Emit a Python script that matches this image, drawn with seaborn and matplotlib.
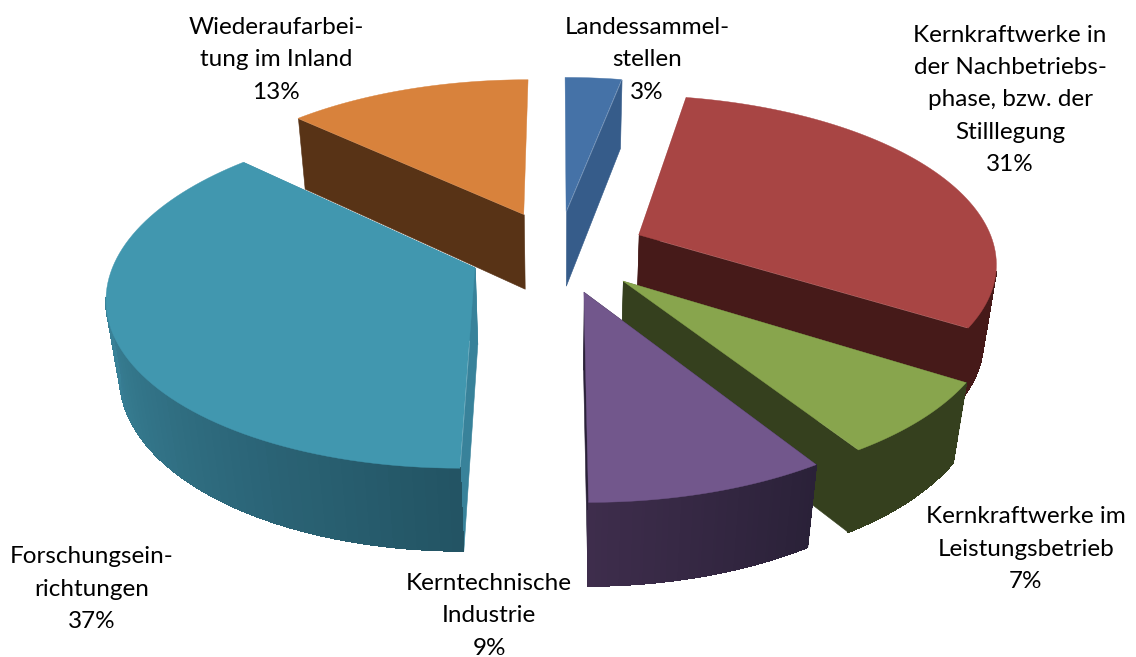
import numpy as np
import matplotlib.pyplot as plt
from matplotlib.collections import PolyCollection
from matplotlib.colors import to_rgb
import seaborn as sns

# shares in percent, clockwise from 12 o'clock
names = ['Landessammel-\nstellen',
         'Kernkraftwerke in\nder Nachbetriebs-\nphase, bzw. der\nStilllegung',
         'Kernkraftwerke im\nLeistungsbetrieb',
         'Kerntechnische\nIndustrie',
         'Forschungsein-\nrichtungen',
         'Wiederaufarbei-\ntung im Inland']
shares = [3, 31, 7, 9, 37, 13]

top_colors = ['#4572A7', '#A84544', '#88A54D', '#72578C', '#4197AF', '#D8823C']
rim_from = ['#365C8A', '#461A19', '#35401E', '#2A2138', '#235464', '#583316']
rim_to = ['#365C8A', '#461A19', '#35401E', '#3E2D4C', '#48A0BA', '#583316']
face_colors = ['#365C8A', '#461A19', '#35401E', '#2A2138', '#38829A', '#583316']

label_x = [647, 1010, 1026, 489, 92, 276]
label_y = [60, 100, 549, 616, 589, 60]

# camera settings, fitted by eye
CX, CY = 558, 251
SX, SY, SZ = 357, 165, 78
TILT, SINK = 0.15, 0.03
EXPLODE = 0.25


def project(x, y, z=0.0):
    w = 1 - TILT * y + SINK * z
    return np.column_stack([CX + SX * x / w, CY + (SY * y + SZ * z) / w])


def quad_strip(x, y):
    top = project(x, y, 0)
    bot = project(x, y, 1)
    return [np.array([top[i], top[i + 1], bot[i + 1], bot[i]]) for i in range(len(x) - 1)]


sns.set_theme(style='white')
plt.rcParams['font.family'] = ['Lato', 'DejaVu Sans']

fig, ax = plt.subplots(figsize=(11.36, 6.57), dpi=100)
fig.subplots_adjust(0, 0, 1, 1)
ax.set_xlim(0, 1136)
ax.set_ylim(657, 0)
ax.axis('off')

edges = np.radians(np.concatenate([[0], np.cumsum(shares)]) * 3.6)
# painter's order, back to front
for i in [5, 0, 1, 4, 2, 3]:
    a0, a1 = edges[i], edges[i + 1]
    mid = (a0 + a1) / 2
    ox, oy = EXPLODE * np.sin(mid), -EXPLODE * np.cos(mid)
    t = np.linspace(a0, a1, 81)
    rx, ry = ox + np.sin(t), oy - np.cos(t)

    # the two cut faces, the one pointing straight back stays hidden
    for a in (a0, a1):
        if np.cos(a) > 0.99:
            continue
        fx = np.array([ox, ox + np.sin(a)])
        fy = np.array([oy, oy - np.cos(a)])
        ax.add_collection(PolyCollection(quad_strip(fx, fy), facecolors=face_colors[i],
                                         edgecolors=face_colors[i], linewidths=0.4))

    # outer wall, shaded along the arc; no antialiasing or the quads show seams
    c0, c1 = np.array(to_rgb(rim_from[i])), np.array(to_rgb(rim_to[i]))
    mix = np.linspace(0, 1, len(t) - 1)[:, None]
    shades = c0 + (c1 - c0) * mix
    quads = quad_strip(rx, ry)
    facing = np.cos(t[:-1]) < -0.2
    quads = [q for q, f in zip(quads, facing) if f]
    ax.add_collection(PolyCollection(quads, facecolors=shades[facing],
                                     edgecolors=shades[facing], linewidths=0.7,
                                     antialiaseds=False))

    # top of the slice
    outline = project(np.concatenate([[ox], rx]), np.concatenate([[oy], ry]))
    ax.fill(outline[:, 0], outline[:, 1], color=top_colors[i], lw=0.3)

for name, share, x, y in zip(names, shares, label_x, label_y):
    ax.text(x, y, f'{name}\n{share}%', ha='center', va='center', fontsize=17.5,
            linespacing=1.66, color='black')

fig.savefig('out.png', dpi=100, facecolor='white')
